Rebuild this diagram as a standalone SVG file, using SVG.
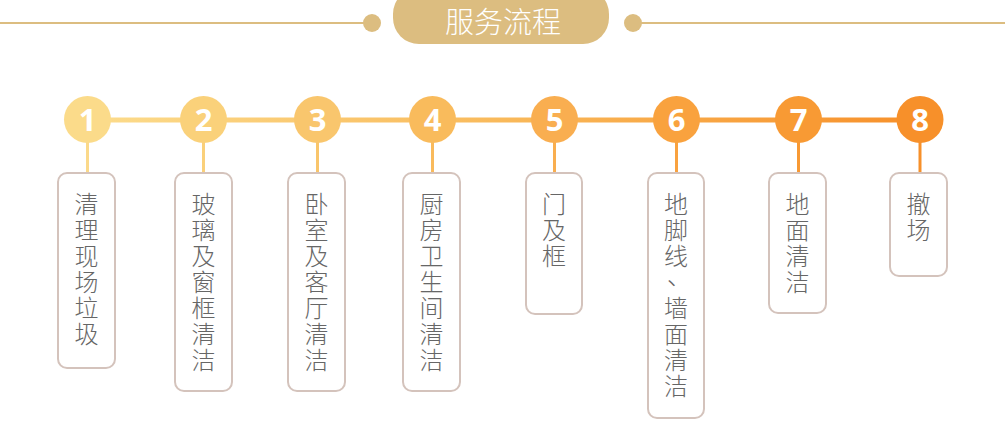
<svg xmlns="http://www.w3.org/2000/svg" width="1005" height="436" viewBox="0 0 1005 436">
<defs>
<linearGradient id="lg" gradientUnits="userSpaceOnUse" x1="87" y1="0" x2="920" y2="0">
<stop offset="0" stop-color="#fcdc8c"/>
<stop offset="0.5" stop-color="#f9b95a"/>
<stop offset="1" stop-color="#f7902a"/>
</linearGradient>
<style>
.box{fill:#fff;stroke:#d4c3bc;stroke-width:2}
.lbl{font-family:"Noto Sans CJK SC","Noto Sans",sans-serif;font-size:24px;fill:#666;text-anchor:middle;font-weight:300}
.num{font-family:"Open Sans","Liberation Sans",sans-serif;font-size:31px;font-weight:bold;fill:#fff;text-anchor:middle}
.vl{stroke-width:3}
</style>
</defs>
<g id="header">
<line x1="0" y1="23" x2="372" y2="23" stroke="#dcbd80" stroke-width="2"/>
<line x1="633" y1="23" x2="1005" y2="23" stroke="#dcbd80" stroke-width="2"/>
<ellipse cx="372" cy="23" rx="9" ry="9" fill="#dcbd80"/>
<ellipse cx="633" cy="23" rx="9" ry="9" fill="#dcbd80"/>
<rect x="393" y="-12" width="216" height="56" rx="26" fill="#dcbd80"/>
<text x="503" y="33" font-family="Noto Sans CJK SC, Noto Sans, sans-serif" font-size="29" font-weight="300" fill="#fff" text-anchor="middle">服务流程</text>
</g>
<g id="connectors">
<line x1="87.5" y1="120" x2="920" y2="120" stroke="url(#lg)" stroke-width="5"/>
<line class="vl" x1="87.5" y1="140" x2="87.5" y2="173" stroke="#fbd98a"/>
<line class="vl" x1="203.5" y1="140" x2="203.5" y2="173" stroke="#fad07a"/>
<line class="vl" x1="317.5" y1="140" x2="317.5" y2="173" stroke="#f9c56b"/>
<line class="vl" x1="432.5" y1="140" x2="432.5" y2="173" stroke="#f9ba5c"/>
<line class="vl" x1="554.5" y1="140" x2="554.5" y2="173" stroke="#f9ae4f"/>
<line class="vl" x1="676.5" y1="140" x2="676.5" y2="173" stroke="#f9a23f"/>
<line class="vl" x1="798.5" y1="140" x2="798.5" y2="173" stroke="#f89934"/>
<line class="vl" x1="920" y1="140" x2="920" y2="173" stroke="#f7902a"/>
</g>
<g id="step1">
<circle cx="87.5" cy="119.5" r="23.5" fill="#fbdb8a"/>
<text class="num" x="87.5" y="131">1</text>
<rect class="box" x="58" y="173" width="57" height="195" rx="9"/>
<text class="lbl"><tspan x="86.5" y="213">清</tspan><tspan x="86.5" dy="26">理</tspan><tspan x="86.5" dy="26">现</tspan><tspan x="86.5" dy="26">场</tspan><tspan x="86.5" dy="26">垃</tspan><tspan x="86.5" dy="26">圾</tspan></text>
</g>
<g id="step2">
<circle cx="203.5" cy="119.5" r="23.5" fill="#fad17a"/>
<text class="num" x="203.5" y="131">2</text>
<rect class="box" x="175" y="173" width="57" height="218" rx="9"/>
<text class="lbl"><tspan x="203.5" y="213">玻</tspan><tspan x="203.5" dy="26">璃</tspan><tspan x="203.5" dy="26">及</tspan><tspan x="203.5" dy="26">窗</tspan><tspan x="203.5" dy="26">框</tspan><tspan x="203.5" dy="26">清</tspan><tspan x="203.5" dy="26">洁</tspan></text>
</g>
<g id="step3">
<circle cx="317.5" cy="119.5" r="23.5" fill="#f9c66d"/>
<text class="num" x="317.5" y="131">3</text>
<rect class="box" x="288" y="173" width="57" height="218" rx="9"/>
<text class="lbl"><tspan x="316.5" y="213">卧</tspan><tspan x="316.5" dy="26">室</tspan><tspan x="316.5" dy="26">及</tspan><tspan x="316.5" dy="26">客</tspan><tspan x="316.5" dy="26">厅</tspan><tspan x="316.5" dy="26">清</tspan><tspan x="316.5" dy="26">洁</tspan></text>
</g>
<g id="step4">
<circle cx="432.5" cy="119.5" r="23.5" fill="#f9bb5c"/>
<text class="num" x="432.5" y="131">4</text>
<rect class="box" x="403" y="173" width="57" height="218" rx="9"/>
<text class="lbl"><tspan x="431.5" y="213">厨</tspan><tspan x="431.5" dy="26">房</tspan><tspan x="431.5" dy="26">卫</tspan><tspan x="431.5" dy="26">生</tspan><tspan x="431.5" dy="26">间</tspan><tspan x="431.5" dy="26">清</tspan><tspan x="431.5" dy="26">洁</tspan></text>
</g>
<g id="step5">
<circle cx="554.5" cy="119.5" r="23.5" fill="#f9ae50"/>
<text class="num" x="554.5" y="131">5</text>
<rect class="box" x="526" y="173" width="56" height="141" rx="9"/>
<text class="lbl"><tspan x="554" y="213">门</tspan><tspan x="554" dy="26">及</tspan><tspan x="554" dy="26">框</tspan></text>
</g>
<g id="step6">
<circle cx="676.5" cy="119.5" r="23.5" fill="#f9a23e"/>
<text class="num" x="676.5" y="131">6</text>
<rect class="box" x="648" y="173" width="56" height="245" rx="9"/>
<text class="lbl"><tspan x="676" y="213">地</tspan><tspan x="676" dy="26">脚</tspan><tspan x="676" dy="26">线</tspan><tspan x="679" dy="20">、</tspan><tspan x="676" dy="32">墙</tspan><tspan x="676" dy="26">面</tspan><tspan x="676" dy="26">清</tspan><tspan x="676" dy="26">洁</tspan></text>
</g>
<g id="step7">
<circle cx="798.5" cy="119.5" r="23.5" fill="#f89a34"/>
<text class="num" x="798.5" y="131">7</text>
<rect class="box" x="769" y="173" width="57" height="140" rx="9"/>
<text class="lbl"><tspan x="797.5" y="213">地</tspan><tspan x="797.5" dy="26">面</tspan><tspan x="797.5" dy="26">清</tspan><tspan x="797.5" dy="26">洁</tspan></text>
</g>
<g id="step8">
<circle cx="920" cy="119.5" r="23.5" fill="#f7902a"/>
<text class="num" x="920" y="131">8</text>
<rect class="box" x="890" y="173" width="57" height="103" rx="9"/>
<text class="lbl"><tspan x="918.5" y="213">撤</tspan><tspan x="918.5" dy="26">场</tspan></text>
</g>
</svg>
